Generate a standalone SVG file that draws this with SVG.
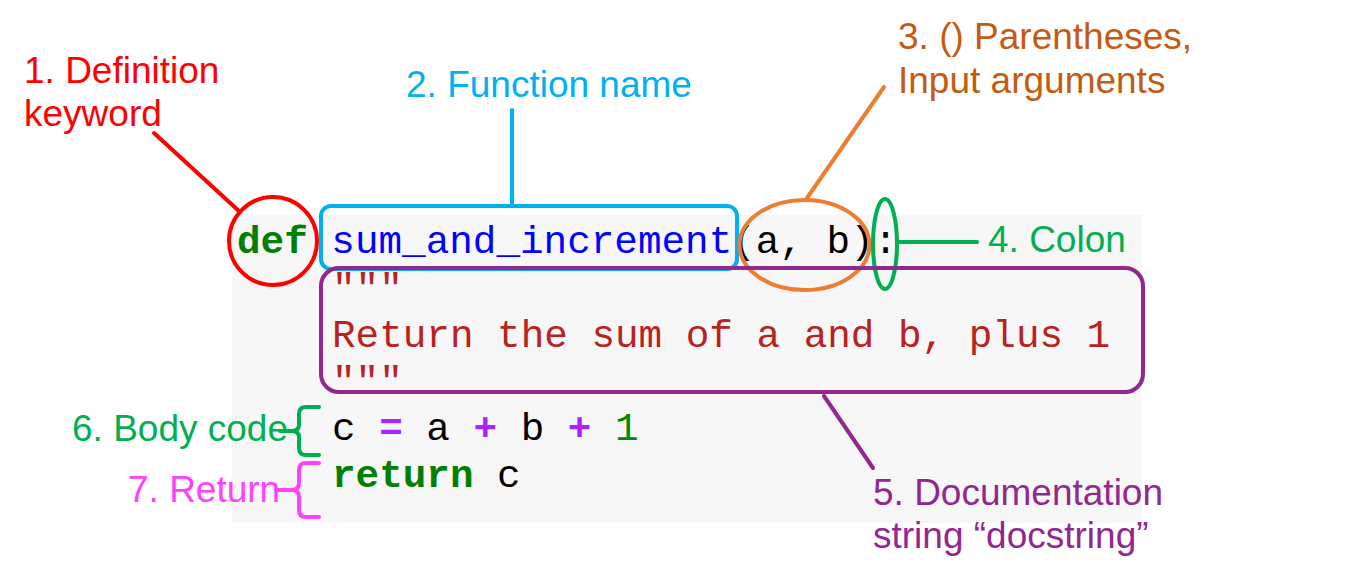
<svg xmlns="http://www.w3.org/2000/svg" width="1348" height="583" viewBox="0 0 1348 583">
<style>
.lbl{font-family:"Liberation Sans",Arial,sans-serif;font-size:37px}
.code{font-family:"Liberation Mono","Courier New",monospace;font-size:39.3px}
.kw{fill:#008000;font-weight:bold}
.fn{fill:#0000FF}
.str{fill:#BA2121}
.op{fill:#AA22FF;font-weight:bold}
.num{fill:#008800}
.plain{fill:#000}
.s{fill:none;stroke-width:4;stroke-linecap:round}
</style>
<rect width="1348" height="583" fill="#fff"/>
<g id="code">
<rect x="232" y="215" width="910" height="308" fill="#F7F7F7"/>
<text class="code" x="237" y="253"><tspan class="kw">def</tspan><tspan class="plain"> </tspan><tspan class="fn">sum_and_increment</tspan><tspan class="plain">(a, b):</tspan></text>
<text class="code str" x="332" y="300">"""</text>
<text class="code str" x="332" y="347">Return the sum of a and b, plus 1</text>
<text class="code str" x="332" y="393">"""</text>
<text class="code" x="332" y="440"><tspan class="plain">c </tspan><tspan class="op">=</tspan><tspan class="plain"> a </tspan><tspan class="op">+</tspan><tspan class="plain"> b </tspan><tspan class="op">+</tspan><tspan class="plain"> </tspan><tspan class="num">1</tspan></text>
<text class="code" x="332" y="487"><tspan class="kw">return</tspan><tspan class="plain"> c</tspan></text>
</g>
<g id="connectors">
<line class="s" x1="154" y1="133" x2="240" y2="212" stroke="#FF0000"/>
<line class="s" x1="512" y1="110" x2="512" y2="205" stroke="#00B0F0"/>
<line class="s" x1="807" y1="198" x2="884" y2="87" stroke="#ED7D31"/>
<line class="s" x1="897" y1="242" x2="977" y2="242" stroke="#00B050"/>
<line class="s" x1="824" y1="396" x2="873" y2="468" stroke="#92278F"/>
</g>
<g id="n1">
<circle class="s" cx="273" cy="241" r="44" stroke="#FF0000"/>
<text class="lbl" x="24" y="83" fill="#FF0000">1. Definition</text>
<text class="lbl" x="24" y="126" fill="#FF0000">keyword</text>
</g>
<g id="n2">
<rect class="s" x="321" y="206" width="416" height="63" rx="10" stroke="#00B0F0"/>
<text class="lbl" x="406" y="97" fill="#00B0F0">2. Function name</text>
</g>
<g id="n3">
<ellipse class="s" cx="804.5" cy="245" rx="65" ry="45" stroke="#ED7D31"/>
<text class="lbl" x="898" y="49" fill="#C55A11">3. () Parentheses,</text>
<text class="lbl" x="898" y="93" fill="#C55A11">Input arguments</text>
</g>
<g id="n4">
<ellipse class="s" cx="885" cy="244" rx="12" ry="45" stroke="#00B050"/>
<text class="lbl" x="988" y="252" fill="#00B050">4. Colon</text>
</g>
<g id="n5">
<rect class="s" x="321" y="268" width="822" height="124" rx="18" stroke="#92278F"/>
<text class="lbl" x="873" y="505" fill="#92278F">5. Documentation</text>
<text class="lbl" x="873" y="548" fill="#92278F">string “docstring”</text>
</g>
<g id="n6">
<text class="lbl" x="72" y="441" fill="#00B050">6. Body code</text>
<path class="s" d="M319,407 H306 Q299,407 299,414 V425 Q299,431 291,431 Q299,431 299,437 V448 Q299,455 306,455 H319 M280,431 H291" stroke="#00B050"/>
</g>
<g id="n7">
<text class="lbl" x="128" y="502" fill="#FF40FF">7. Return</text>
<path class="s" d="M319,463 H306 Q299,463 299,470 V483 Q299,490 291,490 Q299,490 299,497 V510 Q299,517 306,517 H319 M276,490 H291" stroke="#FF40FF"/>
</g>
</svg>
